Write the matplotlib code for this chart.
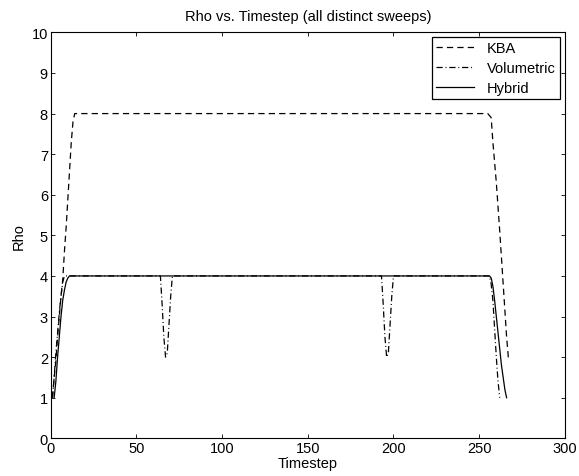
import matplotlib
matplotlib.use('Agg')
import matplotlib.pyplot as plt

plt.rcParams['font.family'] = ['Liberation Sans', 'DejaVu Sans']
plt.rcParams['lines.scale_dashes'] = False

# (timestep, rho) vertices
kba_t = [1, 2, 3, 4, 5, 6, 7, 8, 9, 10, 11, 12, 13, 14,
         255, 257, 258, 260, 262, 264, 266, 267, 269]
kba_rho = [1, 1.5, 1.9, 2.5, 3.0, 3.5, 3.9, 4.6, 5.2, 5.9, 6.6, 7.3, 7.8, 8.0,
           8.0, 7.9, 7.3, 6.3, 5.1, 3.8, 2.5, 2.0, 2.0]

vol_t = [1, 2, 3, 4, 5, 6, 7, 8,
         64, 65, 66, 67, 68, 69, 70, 71,
         193, 194, 195, 196, 197, 198, 199, 200,
         256, 257, 258, 259, 260, 261, 262]
vol_rho = [1, 1.5, 2.1, 2.6, 3.1, 3.5, 3.85, 4.0,
           4.0, 3.3, 2.5, 2.0, 2.1, 2.8, 3.5, 4.0,
           4.0, 3.3, 2.5, 2.0, 2.1, 2.8, 3.5, 4.0,
           4.0, 3.8, 3.4, 2.7, 2.0, 1.4, 1.0]

hyb_t = [2, 3, 4, 5, 6, 7, 8, 9, 10, 11,
         256, 257, 258, 259, 260, 261, 262, 263, 264, 265, 266]
hyb_rho = [1, 1.4, 2.0, 2.5, 3.0, 3.4, 3.65, 3.85, 3.95, 4.0,
           4.0, 3.95, 3.75, 3.4, 3.0, 2.6, 2.2, 1.8, 1.5, 1.2, 1.0]

fig = plt.figure(figsize=(5.79, 4.77), dpi=100)
ax = fig.add_axes([0.0876, 0.079, 0.888, 0.851])

ax.plot(kba_t, kba_rho, color='k', lw=0.9, dashes=(4.5, 3), label='KBA')
ax.plot(vol_t, vol_rho, color='k', lw=0.9, dashes=(4.5, 2, 0.7, 2), label='Volumetric')
ax.plot(hyb_t, hyb_rho, color='k', lw=0.9, label='Hybrid')

ax.set_xlim(0, 300)
ax.set_ylim(0, 10)
ax.set_xticks(range(0, 301, 50))
ax.set_yticks(range(0, 11))
ax.tick_params(direction='in', top=True, right=True, length=3, width=0.6,
               labelsize=10.5, pad=2)
for s in ax.spines.values():
    s.set_linewidth(0.8)

ax.set_title('Rho vs. Timestep (all distinct sweeps)', fontsize=10.5, pad=9)
ax.set_xlabel('Timestep', fontsize=10.5, labelpad=0.5)
ax.set_ylabel('Rho', fontsize=10.5, labelpad=4)

leg = ax.legend(loc='upper right', fontsize=10.5, fancybox=False, framealpha=1,
                edgecolor='k', borderaxespad=0.3, handlelength=2.6,
                labelspacing=0.4, borderpad=0.3, handletextpad=0.9)
leg.get_frame().set_linewidth(0.9)

fig.savefig('out.png', dpi=100)
